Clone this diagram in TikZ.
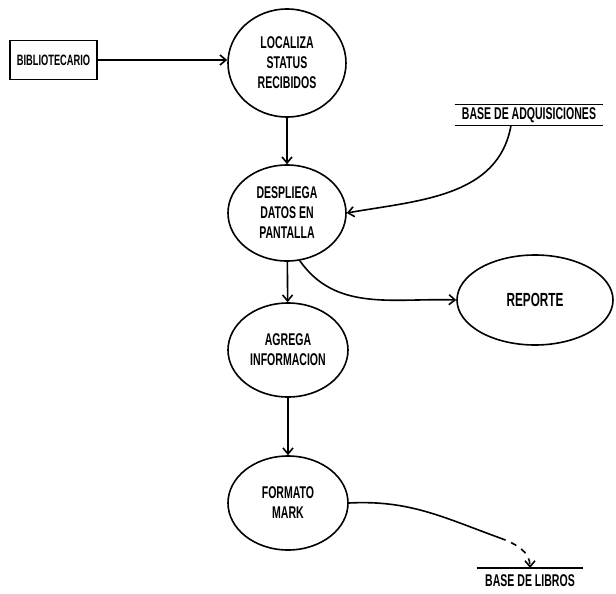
\documentclass[tikz,border=0pt]{standalone}
\usepackage{fontspec}
\setmainfont{Liberation Sans}[FakeStretch=0.62]
\usepackage{tikz}
\usetikzlibrary{positioning, shapes.geometric, arrows.meta}

\begin{document}
\begin{tikzpicture}[
    x=0.5pt, y=-0.5pt,
    every node/.style={font=\fontsize{8.5}{10}\selectfont\bfseries},
    proc/.style={draw, ellipse, thick, minimum width=59pt, minimum height=50pt,
                 align=center, inner sep=0pt},
    agent/.style={draw, rectangle, thick, minimum width=43.5pt, minimum height=19.5pt,
                  inner sep=2pt, font=\fontsize{7.5}{10}\selectfont\bfseries},
    store/.style={minimum width=74pt, minimum height=10pt, inner sep=0pt},
    flow/.style={-{Straight Barb[length=3pt, width=5pt]}, thick}
]
\useasboundingbox (0,0) rectangle (616,594);

% Processes
\node[agent] (bib) at (53.5,60) {BIBLIOTECARIO};
\node[proc, minimum height=54pt] (loc) at (287,63) {LOCALIZA\\STATUS\\RECIBIDOS};
\node[proc, minimum height=48pt] (desp) at (287,213) {DESPLIEGA\\DATOS EN\\PANTALLA};
\node[proc, minimum width=60pt, minimum height=47pt] (agr) at (288,350) {AGREGA\\INFORMACION};
\node[proc, minimum width=60pt, minimum height=47pt] (fmt) at (288,503) {FORMATO\\MARK};
\node[proc, minimum width=78pt, minimum height=45pt, font=\fontsize{9.5}{10}\selectfont\bfseries] (rep) at (535,300) {REPORTE};

% Stores
\node[store] (adq) at (529,115) {BASE DE ADQUISICIONES};
\draw[thick] (adq.north west) -- (adq.north east);
\draw[thick] (adq.south west) -- (adq.south east);
\node[store, minimum width=53pt, minimum height=12pt, anchor=north] (lib) at (530,568) {BASE DE LIBROS};
\draw[thick] (lib.north west) -- (lib.north east);

% Flows
\draw[flow] (bib.east) -- (bib.east -| loc.west);
\draw[flow] (loc) -- (desp);
\draw[flow] ([xshift=-9pt]adq.south) to[out=-100, in=10] (desp.east);
\draw[flow] (desp) -- (agr);
\draw[flow] (desp.-75) to[out=-55, in=178] (rep.west);
\draw[flow] (agr) -- (fmt);
\coordinate (bend) at (500,538);
\draw[thick] (fmt.east) to[out=3, in=160] (bend);
\draw[flow, dashed] (bend) to[out=-20, in=90] (lib.north);

\end{tikzpicture}
\end{document}
